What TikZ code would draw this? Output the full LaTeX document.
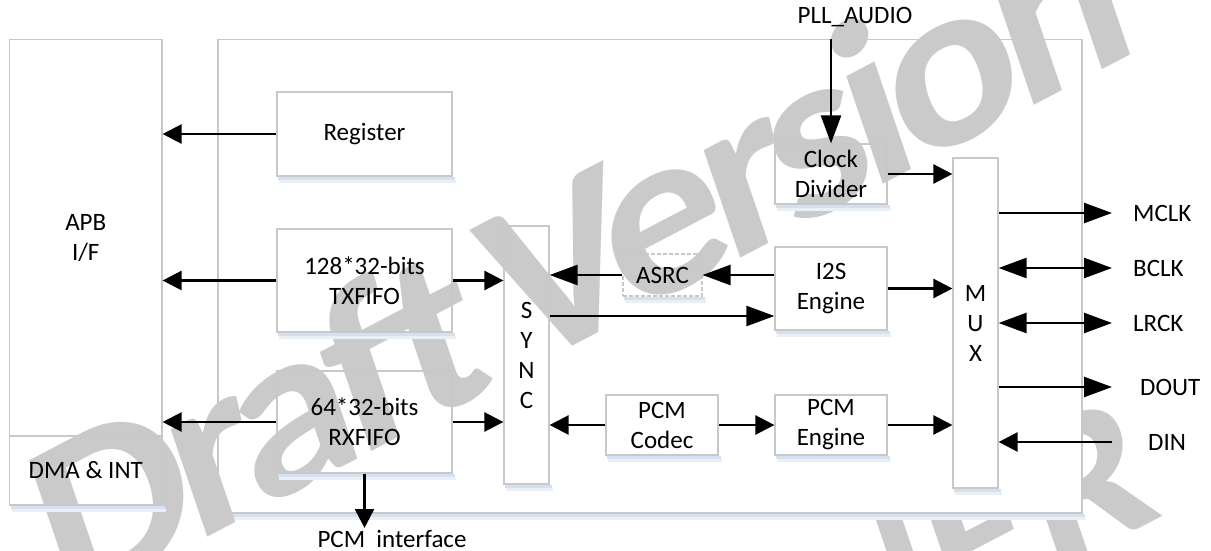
\documentclass[tikz,border=0pt]{standalone}
\usepackage{fontspec}
\setmainfont{Carlito}
\newfontfamily\wmfont[LetterSpace=-6]{Carlito}
\usetikzlibrary{arrows.meta,calc}
\definecolor{bord}{RGB}{200,200,200}
\definecolor{shadA}{RGB}{214,225,240}
\definecolor{shadB}{RGB}{234,240,248}
\definecolor{wmk}{RGB}{202,202,202}
\begin{document}
\begin{tikzpicture}[x=1pt,y=-1pt,
  every node/.style={font=\fontsize{25}{30}\selectfont, inner sep=0pt, align=center},
  blk/.style={draw=bord, line width=1.2pt},
  dblk/.style={draw=bord, line width=1.2pt, dash pattern=on 4pt off 2pt},
  wmark/.style={text=wmk, inner sep=0pt, transform shape},
  wmframe/.style={cm={0.916,0.479,-0.3045,0.895,(0,0)}},
  conn/.style={line width=2.5pt, black},
  arS/.style={conn, -{Triangle[length=19pt,width=19pt]}},
  arL/.style={conn, -{Triangle[length=28pt,width=20pt]}},
  arLL/.style={conn, {Triangle[length=28pt,width=20pt]}-{Triangle[length=28pt,width=20pt]}}
]
\useasboundingbox (0,0) rectangle (1211,551);
\begin{scope}
\clip (0,0) rectangle (1211,551);
\fill[white] (0,0) rectangle (1211,551);
% background watermark
\begin{scope}[shift={(1165,515)}, wmframe]
\node[wmark, anchor=base east, font=\fontsize{220}{220}\selectfont\bfseries] (wmb) at (0,0) {ALLWINNER};
\end{scope}
% main block
\node[blk, fill=white, minimum width=864pt, minimum height=473.5pt] (main) at (650,276.25) {};
\fill[shadA] ([xshift=2pt]main.south west) rectangle ([xshift=2pt,yshift=-3pt]main.south east);
\fill[shadB] ([xshift=3pt,yshift=-3pt]main.south west) rectangle ([xshift=3pt,yshift=-6pt]main.south east);
% front watermark
\begin{scope}[shift={(604,330)}, wmframe]
\node[wmark, anchor=base, font=\wmfont\fontsize{248}{248}\selectfont\bfseries] (wma) at (0,0) {Draft\hspace{-0.08em} Version};
\end{scope}
% left interface
\node[blk, minimum width=152.5pt, minimum height=396.5pt] (apb) at (85.75,237.75) {APB\\I/F};
\node[blk, minimum width=152.5pt, minimum height=69pt] (dma) at (85.75,470.5) {DMA \& INT};
% blocks
\node[blk, minimum width=175pt, minimum height=84pt] (reg) at (364.5,134) {Register};
\node[blk, minimum width=175pt, minimum height=103pt] (tx) at (364.5,280.5) {128*32-bits\\TXFIFO};
\node[blk, minimum width=175pt, minimum height=102pt] (rx) at (364.5,422) {64*32-bits\\RXFIFO};
\node[blk, minimum width=45pt, minimum height=258pt] (sync) at (526.5,355) {S\\Y\\N\\C};
\node[dblk, minimum width=79pt, minimum height=42pt] (asrc) at (662.5,275) {ASRC};
\node[blk, minimum width=112pt, minimum height=60pt] (clk) at (831,174) {Clock\\Divider};
\node[blk, minimum width=112pt, minimum height=83pt] (i2s) at (831,288.5) {I2S\\Engine};
\node[blk, minimum width=112pt, minimum height=60pt] (codec) at (662,425) {PCM\\Codec};
\node[blk, minimum width=112pt, minimum height=60pt] (pcme) at (831,425) {PCM\\Engine};
\node[blk, minimum width=45pt, minimum height=330pt] (mux) at (975.5,323) {M\\U\\X};
% soft shadows under the blocks
\foreach \n in {dma,reg,tx,rx,sync,asrc,clk,i2s,codec,pcme,mux} {
  \fill[shadA] ([xshift=2pt,yshift=-0.7pt]\n.south west) rectangle ([xshift=2pt,yshift=-3pt]\n.south east);
  \fill[shadB] ([xshift=3pt,yshift=-3pt]\n.south west) rectangle ([xshift=3pt,yshift=-6pt]\n.south east);
}
% labels
\node (pll) at (855,17) {PLL\_AUDIO};
\coordinate (pllin) at (831,39.5);
\coordinate (pcmend) at (364.5,528);
\node (pcmif) at (392,538.5) {PCM\ \ interface};
\node[anchor=west] (mclk) at (1133,213.5) {MCLK};
\node[anchor=west] (bclk) at (1133,268) {BCLK};
\node[anchor=west] (lrck) at (1133,323) {LRCK};
\node[anchor=west] (dout) at (1140,387) {DOUT};
\node[anchor=west] (din) at (1148,442) {DIN};
\coordinate (o1) at (1112,213);
\coordinate (o2) at (1112,268);
\coordinate (o3) at (1112,323);
\coordinate (o4) at (1112,387);
\coordinate (o5) at (1112,442);
% connectors
\draw[arS] (reg.west) -- (reg.west -| apb.east);
\draw[arS] (tx.west) -- (tx.west -| apb.east);
\draw[arS] (tx.east) -- (tx.east -| sync.west);
\draw[arS] (rx.west) -- (rx.west -| apb.east);
\draw[arS] (rx.east) -- (rx.east -| sync.west);
\draw[arS] (rx.south) -- (pcmend);
\draw[arL] (pllin) -- (clk.north);
\draw[arS] (clk.east) -- (clk.east -| mux.west);
\draw[arL] (i2s.west |- asrc.east) -- (asrc.east);
\draw[arL] (asrc.west) -- (asrc.west -| sync.east);
\draw[arL] (sync.east |- 0,316) -- (i2s.west |- 0,316);
\draw[arS] (i2s.east) -- (i2s.east -| mux.west);
\draw[arS] (codec.west) -- (codec.west -| sync.east);
\draw[arS] (codec.east) -- (pcme.west);
\draw[arS] (pcme.east) -- (pcme.east -| mux.west);
\draw[arL] (mux.east |- o1) -- (o1);
\draw[arLL] (mux.east |- o2) -- (o2);
\draw[arLL] (mux.east |- o3) -- (o3);
\draw[arL] (mux.east |- o4) -- (o4);
\draw[arS] (o5) -- (mux.east |- o5);
\end{scope}
\end{tikzpicture}
\end{document}
